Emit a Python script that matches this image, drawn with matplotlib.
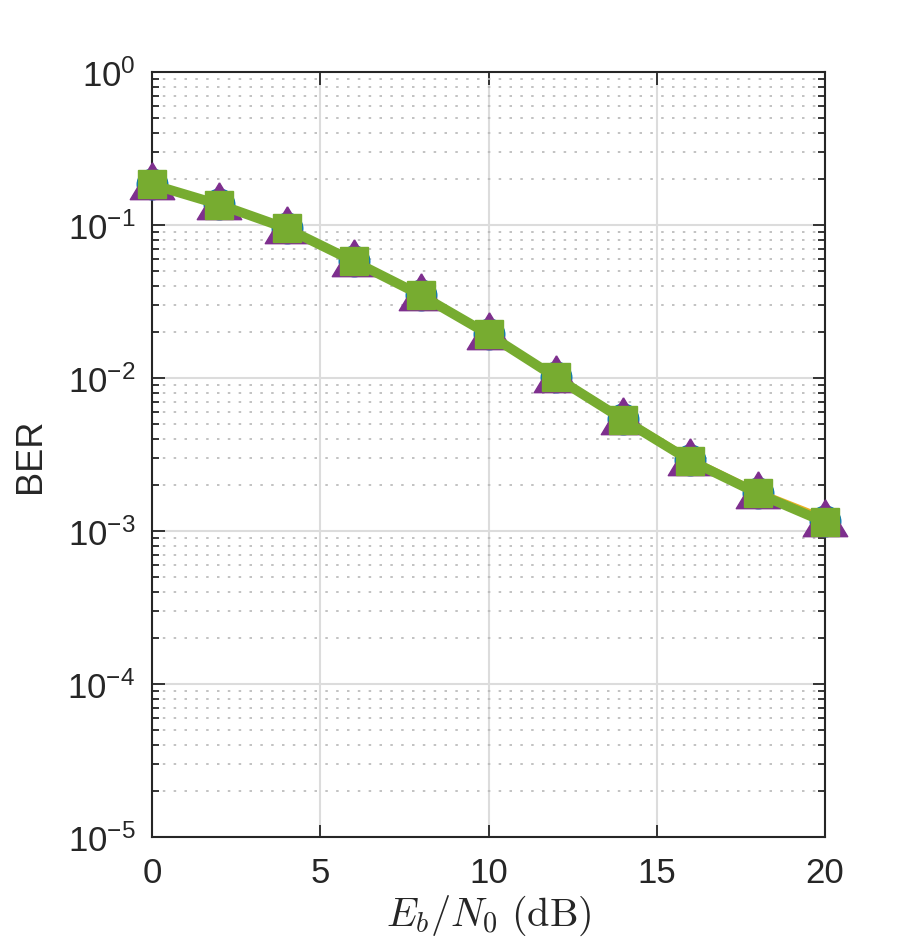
import matplotlib
matplotlib.use("Agg")
import matplotlib.pyplot as plt
import numpy as np

plt.rcParams["font.family"] = ["Liberation Sans", "DejaVu Sans"]
plt.rcParams["mathtext.fontset"] = "custom"
plt.rcParams["mathtext.rm"] = "Liberation Sans"
plt.rcParams["mathtext.it"] = "Liberation Sans:italic"
plt.rcParams["font.size"] = 25
plt.rcParams["text.color"] = "#262626"
plt.rcParams["axes.labelcolor"] = "#262626"
plt.rcParams["xtick.color"] = "#262626"
plt.rcParams["ytick.color"] = "#262626"

# data
ebn0 = [0, 2, 4, 6, 8, 10, 12, 14, 16, 18, 20]
ber_circle = [0.185, 0.137, 0.0955, 0.058, 0.0349, 0.0194, 0.0102, 0.0054, 0.0029, 0.00178, 0.00116]
ber_line = [0.186, 0.138, 0.096, 0.0585, 0.0352, 0.0196, 0.0103, 0.0055, 0.00298, 0.00182, 0.00122]
ber_triangle = [0.185, 0.137, 0.0955, 0.058, 0.0349, 0.0194, 0.0102, 0.0054, 0.0029, 0.00178, 0.00116]
ber_square = [0.184, 0.136, 0.095, 0.0578, 0.0347, 0.0193, 0.0101, 0.00535, 0.00288, 0.00176, 0.00114]

# matlab-like triangle: centroid at the data point
tri = [(0, 20), (-20.5, -14), (20.5, -14), (0, 20)]

fig = plt.figure(figsize=(9.13, 9.53), dpi=100)
ax = fig.add_axes([152 / 913, 1 - 838 / 953, (825 - 152) / 913, (838 - 73) / 953])

ax.plot(ebn0, ber_circle, "-o", color="#0072BD", lw=2, ms=22, zorder=3, clip_on=False)
ax.plot(ebn0, ber_line, "-", color="#EDB120", lw=4, zorder=4, clip_on=False)
ax.plot(ebn0, ber_triangle, "-", marker=tri, color="#7E2F8E", lw=3, ms=32, zorder=5, clip_on=False)
ax.plot(ebn0, ber_square, "-s", color="#77AC30", lw=7, ms=19.5, zorder=6, clip_on=False)

ax.set_yscale("log")
ax.set_xlim(0, 20)
ax.set_ylim(1e-5, 1)
ax.set_xticks([0, 5, 10, 15, 20])
ax.grid(True, which="major", color="#dcdcdc", lw=1.5, ls="-")
ax.grid(True, which="minor", axis="y", color="#b8b8b8", lw=1.2, ls=(0, (1.5, 5)))
ax.set_axisbelow(True)
ax.tick_params(which="both", direction="in", top=True, right=True, width=1.3, labelsize=25)
ax.tick_params(axis="x", pad=14)
ax.tick_params(axis="y", pad=12)
ax.tick_params(which="major", length=9)
ax.tick_params(which="minor", length=5)
for s in ax.spines.values():
    s.set_linewidth(1.5)
    s.set_color("#262626")

ax.set_ylabel("BER", fontsize=26, labelpad=14)
ax.set_xlabel(r"$E_b/N_0\ \mathrm{(dB)}$", fontsize=29, math_fontfamily="cm", labelpad=2)

fig.savefig("out.png", dpi=100)
